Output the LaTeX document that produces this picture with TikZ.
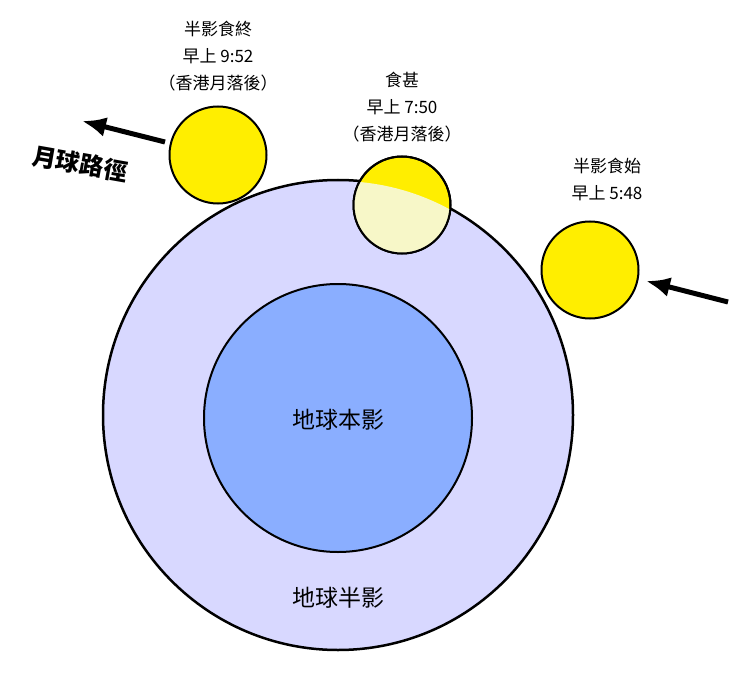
\documentclass[tikz,border=0pt]{standalone}
\usepackage{fontspec}
\newfontfamily\cjk{Noto Sans CJK TC}
\definecolor{penumbra}{HTML}{D8D8FF}
\definecolor{umbra}{HTML}{8AAEFF}
\definecolor{moonyellow}{HTML}{FFEE00}
\definecolor{moonpale}{HTML}{F7F7C8}
\tikzset{
  moon/.style={circle,draw=black,line width=2pt,fill=moonyellow,minimum size=97pt,inner sep=0pt},
  timelabel/.style={align=center,font=\cjk\fontsize{17}{27}\selectfont},
  shadowlabel/.style={font=\cjk\fontsize{23}{26}\selectfont},
  patharrow/.style={-{Latex[length=24pt,width=20pt]},line width=5pt}
}
\usetikzlibrary{arrows.meta}
\begin{document}
\begin{tikzpicture}[x=1pt,y=-1pt]
  \useasboundingbox (0,0) rectangle (750,682);
  % Erdschatten
  \node[circle,draw=black,line width=2.5pt,fill=penumbra,minimum size=470pt,inner sep=0pt] (penumbra) at (338,415) {};
  \node[circle,draw=black,line width=2pt,fill=umbra,minimum size=268pt,inner sep=0pt] (umbra) at (338,418) {};
  \node[shadowlabel] (umbratext) at (338,420) {地球本影};
  \node[shadowlabel] (penumbratext) at (338,598) {地球半影};

  % Mond
  \node[moon] (moonend) at (218,155) {};
  \node[moon] (moonmid) at (402,205) {};
  \begin{scope}
    \clip (338,415) circle (234);
    \fill[moonpale] (402,205) circle (48);
  \end{scope}
  \draw[line width=2pt] (402,205) circle (48.5);
  \node[moon] (moonstart) at (590,270) {};

  \node[timelabel] (endtext) at (218,56) {半影食終\\早上 9:52\\（香港月落後）};
  \node[timelabel] (midtext) at (402,107) {食甚\\早上 7:50\\（香港月落後）};
  \node[timelabel] (starttext) at (607,179) {半影食始\\早上 5:48};

  % Bahn
  \coordinate (inA) at (728,302);
  \coordinate (inB) at (646,281);
  \coordinate (outA) at (165,142);
  \coordinate (outB) at (82,121);
  \draw[patharrow] (inA) -- (inB);
  \draw[patharrow] (outA) -- (outB);
  \node[font=\cjk\bfseries\fontsize{24}{26}\selectfont,rotate=-10] (pathtext) at (80,164) {月球路徑};
\end{tikzpicture}
\end{document}
